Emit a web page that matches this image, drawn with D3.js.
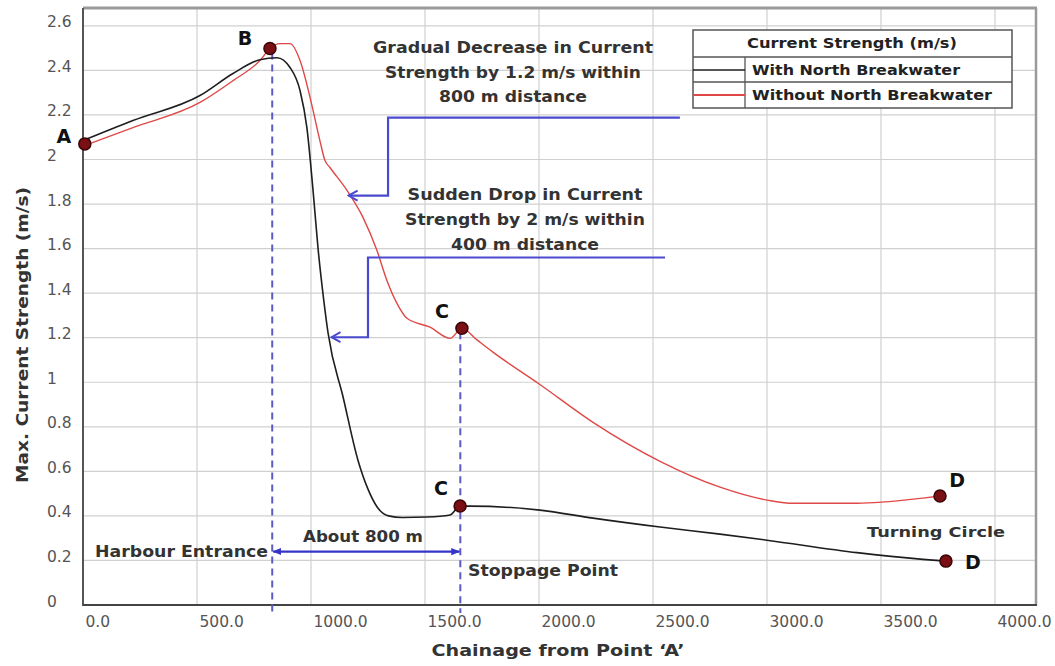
<!DOCTYPE html>
<html>
<head>
<meta charset="utf-8">
<script src="https://cdn.jsdelivr.net/npm/d3@7"></script>
<style>
  html, body { margin: 0; padding: 0; background: #fff; }
  svg { display: block; font-family: "DejaVu Sans", "Liberation Sans", sans-serif; }
</style>
</head>
<body>
<svg id="chart" width="1055" height="666"></svg>
<script>
// Chainage (m) and maximum current strength (m/s) along the approach channel
const withChainage = [0, 219, 513, 658, 776, 851, 908, 952, 982, 1009, 1031, 1057, 1075, 1140, 1206, 1250, 1290, 1340, 1400, 1509, 1610, 1654, 1697, 2004, 2237, 2531, 2794, 3000, 3395, 3684, 3785];
const withSpeed = [2.085, 2.175, 2.287, 2.386, 2.448, 2.457, 2.413, 2.309, 2.143, 1.861, 1.600, 1.360, 1.220, 0.937, 0.650, 0.520, 0.440, 0.400, 0.393, 0.395, 0.404, 0.444, 0.444, 0.426, 0.390, 0.350, 0.318, 0.291, 0.235, 0.205, 0.197];

const withoutChainage = [0, 219, 513, 658, 776, 820, 864, 908, 952, 996, 1039, 1061, 1083, 1158, 1228, 1289, 1333, 1377, 1421, 1522, 1610, 1662, 1728, 1798, 2004, 2237, 2531, 2794, 3000, 3101, 3395, 3684, 3759];
const withoutSpeed = [2.06, 2.143, 2.256, 2.354, 2.444, 2.498, 2.52, 2.52, 2.444, 2.278, 2.085, 1.996, 1.964, 1.861, 1.740, 1.592, 1.457, 1.354, 1.287, 1.247, 1.197, 1.242, 1.190, 1.135, 0.990, 0.820, 0.645, 0.529, 0.471, 0.457, 0.457, 0.480, 0.489];

// Key points A-D on both curves
const pointNames = ["A", "B", "C", "C", "D", "D"];
const pointChainage = [8, 820, 1662, 1654, 3759, 3785];
const pointSpeed = [2.07, 2.498, 1.242, 0.444, 0.489, 0.197];

// Harbour entrance and stoppage point chainages
const entranceChainage = 830;
const stoppageChainage = 1655;

const xTicks = [0, 500, 1000, 1500, 2000, 2500, 3000, 3500, 4000];
const xTickLabels = ["0.0", "500.0", "1000.0", "1500.0", "2000.0", "2500.0", "3000.0", "3500.0", "4000.0"];
const yTicks = [0, 0.2, 0.4, 0.6, 0.8, 1.0, 1.2, 1.4, 1.6, 1.8, 2.0, 2.2, 2.4, 2.6];
const yTickLabels = ["0", "0.2", "0.4", "0.6", "0.8", "1", "1.2", "1.4", "1.6", "1.8", "2", "2.2", "2.4", "2.6"];

const seriesNames = ["With North Breakwater", "Without North Breakwater"];
const legendTitle = "Current Strength (m/s)";

// ---------------------------------------------------------------
const svg = d3.select("#chart");
const plotLeft = 83, plotRight = 1036, plotTop = 8, plotBottom = 605;

const x = d3.scaleLinear().domain([0, 4180]).range([plotLeft, plotRight]);
const y = d3.scaleLinear().domain([0, 2.68]).range([plotBottom, plotTop]);

const blue = "#4a4ad0";
const dashBlue = "#5a5ac0";

// Helper for text with a fixed rendered width
function label(g, str, px, py, opt) {
  opt = opt || {};
  const t = g.append("text")
    .attr("x", px).attr("y", py)
    .attr("text-anchor", opt.anchor || "start")
    .attr("dominant-baseline", "central")
    .attr("font-size", opt.size || 15)
    .attr("font-weight", opt.weight || "bold")
    .attr("fill", opt.fill || "#222")
    .text(str);
  if (opt.width) t.attr("textLength", opt.width).attr("lengthAdjust", "spacingAndGlyphs");
  return t;
}

// Gridlines
svg.append("g")
  .selectAll("line").data(xTicks.filter(d => d > 0)).join("line")
  .attr("x1", d => x(d)).attr("x2", d => x(d))
  .attr("y1", plotTop).attr("y2", plotBottom)
  .attr("stroke", "#d0d0d0").attr("stroke-width", 1.2);
svg.append("g")
  .selectAll("line").data(yTicks.filter(d => d > 0)).join("line")
  .attr("x1", plotLeft).attr("x2", plotRight)
  .attr("y1", d => y(d)).attr("y2", d => y(d))
  .attr("stroke", "#d0d0d0").attr("stroke-width", 1.2);

// Frame
svg.append("line").attr("x1", plotLeft).attr("x2", plotRight + 1).attr("y1", plotTop).attr("y2", plotTop)
  .attr("stroke", "#9a9a9a").attr("stroke-width", 3);
svg.append("line").attr("x1", plotRight).attr("x2", plotRight).attr("y1", plotTop).attr("y2", plotBottom)
  .attr("stroke", "#9a9a9a").attr("stroke-width", 2.5);

// Axes
const xAxis = svg.append("g").attr("transform", `translate(0,${plotBottom})`)
  .call(d3.axisBottom(x).tickValues(xTicks).tickFormat((d, i) => xTickLabels[i]).tickSize(0).tickPadding(0));
xAxis.select(".domain").remove();
xAxis.selectAll("text")
  .attr("text-anchor", "start").attr("x", 2).attr("y", 17).attr("dy", null)
  .attr("dominant-baseline", "central")
  .attr("font-family", "DejaVu Sans").attr("font-size", 15.5).attr("fill", "#555");

const yAxis = svg.append("g").attr("transform", `translate(${plotLeft},0)`)
  .call(d3.axisLeft(y).tickValues(yTicks).tickFormat((d, i) => yTickLabels[i]).tickSize(0).tickPadding(0));
yAxis.select(".domain").remove();
yAxis.selectAll("text")
  .attr("text-anchor", "start").attr("x", 47 - plotLeft).attr("dy", null).attr("y", -4)
  .attr("dominant-baseline", "central")
  .attr("font-family", "DejaVu Sans").attr("font-size", 15.5).attr("fill", "#555");

svg.append("line").attr("x1", plotLeft).attr("x2", plotLeft).attr("y1", plotTop).attr("y2", plotBottom + 1)
  .attr("stroke", "#555").attr("stroke-width", 2);
svg.append("line").attr("x1", plotLeft).attr("x2", plotRight + 1).attr("y1", plotBottom).attr("y2", plotBottom)
  .attr("stroke", "#444").attr("stroke-width", 2);

// Axis titles
label(svg, "Chainage from Point \u2018A\u2019", 558, 650, { anchor: "middle", size: 16, width: 253, fill: "#333" });
label(svg, "Max. Current Strength (m/s)", 0, 0, { anchor: "middle", size: 16.5, width: 296, fill: "#333" })
  .attr("transform", "translate(22,335) rotate(-90)");

// Arrow markers
const defs = svg.append("defs");
defs.append("marker").attr("id", "chev")
  .attr("viewBox", "-12 -7 14 14").attr("refX", 0).attr("refY", 0)
  .attr("markerWidth", 14).attr("markerHeight", 14).attr("markerUnits", "userSpaceOnUse")
  .attr("orient", "auto")
  .append("path").attr("d", "M-9,-5 L0,0 L-9,5").attr("fill", "none")
  .attr("stroke", blue).attr("stroke-width", 2).attr("stroke-linejoin", "miter");
defs.append("marker").attr("id", "tri")
  .attr("viewBox", "0 -5 10 10").attr("refX", 9).attr("refY", 0)
  .attr("markerWidth", 9).attr("markerHeight", 9).attr("markerUnits", "userSpaceOnUse")
  .attr("orient", "auto-start-reverse")
  .append("path").attr("d", "M0,-4 L10,0 L0,4 Z").attr("fill", "#3535c8");

// Vertical dashed reference lines
svg.append("line")
  .attr("x1", x(entranceChainage)).attr("x2", x(entranceChainage))
  .attr("y1", y(pointSpeed[1]) + 4).attr("y2", plotBottom + 8)
  .attr("stroke", dashBlue).attr("stroke-width", 2).attr("stroke-dasharray", "7,5");
svg.append("line")
  .attr("x1", x(stoppageChainage)).attr("x2", x(stoppageChainage))
  .attr("y1", y(pointSpeed[2]) + 4).attr("y2", plotBottom + 8)
  .attr("stroke", dashBlue).attr("stroke-width", 2).attr("stroke-dasharray", "7,5");

// Distance arrow between entrance and stoppage point
svg.append("line")
  .attr("x1", x(entranceChainage) + 1).attr("x2", x(stoppageChainage) - 1)
  .attr("y1", y(0.24)).attr("y2", y(0.24))
  .attr("stroke", "#3535c8").attr("stroke-width", 2.2)
  .attr("marker-start", "url(#tri)").attr("marker-end", "url(#tri)");

// Curves
const line = d3.line().x(d => x(d[0])).y(d => y(d[1])).curve(d3.curveMonotoneX);
svg.append("path")
  .datum(withoutChainage.map((c, i) => [c, withoutSpeed[i]]))
  .attr("d", line).attr("fill", "none").attr("stroke", "#e04848").attr("stroke-width", 1.4);
svg.append("path")
  .datum(withChainage.map((c, i) => [c, withSpeed[i]]))
  .attr("d", line).attr("fill", "none").attr("stroke", "#1e1e1e").attr("stroke-width", 1.6);

// Annotation leaders
const lead1 = [[2618, 2.188], [1338, 2.188], [1338, 1.838], [1165, 1.838]];
const lead2 = [[2553, 1.56], [1250, 1.56], [1250, 1.202], [1090, 1.202]];
const straight = d3.line().x(d => x(d[0])).y(d => y(d[1]));
[lead1, lead2].forEach(pts => {
  svg.append("path").attr("d", straight(pts)).attr("fill", "none")
    .attr("stroke", blue).attr("stroke-width", 2.2)
    .attr("marker-end", "url(#chev)");
});

// Annotation text
const ann = svg.append("g");
[["Gradual Decrease in Current", 48, 280], ["Strength by 1.2 m/s within", 73, 256], ["800 m distance", 97, 148]]
  .forEach(([s, py, w]) => label(ann, s, 513, py, { anchor: "middle", size: 15, width: w, fill: "#333" }));
[["Sudden Drop in Current", 195, 235], ["Strength by 2 m/s within", 220, 240], ["400 m distance", 245, 148]]
  .forEach(([s, py, w]) => label(ann, s, 525, py, { anchor: "middle", size: 15, width: w, fill: "#333" }));

label(ann, "Harbour Entrance", 268, 552, { anchor: "end", size: 15.5, width: 173, fill: "#333" });
label(ann, "About 800 m", 363, 537, { anchor: "middle", size: 15.5, width: 120, fill: "#333" });
label(ann, "Stoppage Point", 468, 571, { anchor: "start", size: 15.5, width: 150, fill: "#333" });
label(ann, "Turning Circle", 867, 532, { anchor: "start", size: 14.5, width: 138, fill: "#333" });

// Key point markers and letters
const labelOffsets = [[-21, -8], [-25, -11], [-20, -17], [-19, -18], [17, -16], [27, 1]];
const keyPts = svg.append("g");
pointNames.forEach((n, i) => {
  const px = x(pointChainage[i]), py = y(pointSpeed[i]);
  keyPts.append("circle").attr("cx", px).attr("cy", py).attr("r", 6)
    .attr("fill", "#7a1014").attr("stroke", "#3a0406").attr("stroke-width", 1.5);
  label(keyPts, n, px + labelOffsets[i][0], py + labelOffsets[i][1], { anchor: "middle", size: 19, fill: "#111" });
});

// Legend
const lg = svg.append("g");
const lx0 = 693, lx1 = 1012, ly0 = 30, ly1 = 108, lr1 = 57, lr2 = 82, lsplit = 745;
lg.append("rect").attr("x", lx0).attr("y", ly0).attr("width", lx1 - lx0).attr("height", ly1 - ly0)
  .attr("fill", "#fff").attr("stroke", "#555").attr("stroke-width", 1.5);
lg.append("line").attr("x1", lx0).attr("x2", lx1).attr("y1", lr1).attr("y2", lr1).attr("stroke", "#555").attr("stroke-width", 1.3);
lg.append("line").attr("x1", lx0).attr("x2", lx1).attr("y1", lr2).attr("y2", lr2).attr("stroke", "#555").attr("stroke-width", 1.3);
lg.append("line").attr("x1", lsplit).attr("x2", lsplit).attr("y1", lr1).attr("y2", ly1).attr("stroke", "#555").attr("stroke-width", 1.3);
label(lg, legendTitle, 852, 43, { anchor: "middle", size: 14, width: 210, fill: "#222" });
lg.append("line").attr("x1", lx0).attr("x2", lsplit).attr("y1", 70).attr("y2", 70).attr("stroke", "#1e1e1e").attr("stroke-width", 1.5);
lg.append("line").attr("x1", lx0).attr("x2", lsplit).attr("y1", 95).attr("y2", 95).attr("stroke", "#e04848").attr("stroke-width", 2);
label(lg, seriesNames[0], 752, 70, { size: 14, width: 208, fill: "#222" });
label(lg, seriesNames[1], 752, 95, { size: 14, width: 240, fill: "#222" });
</script>
</body>
</html>
